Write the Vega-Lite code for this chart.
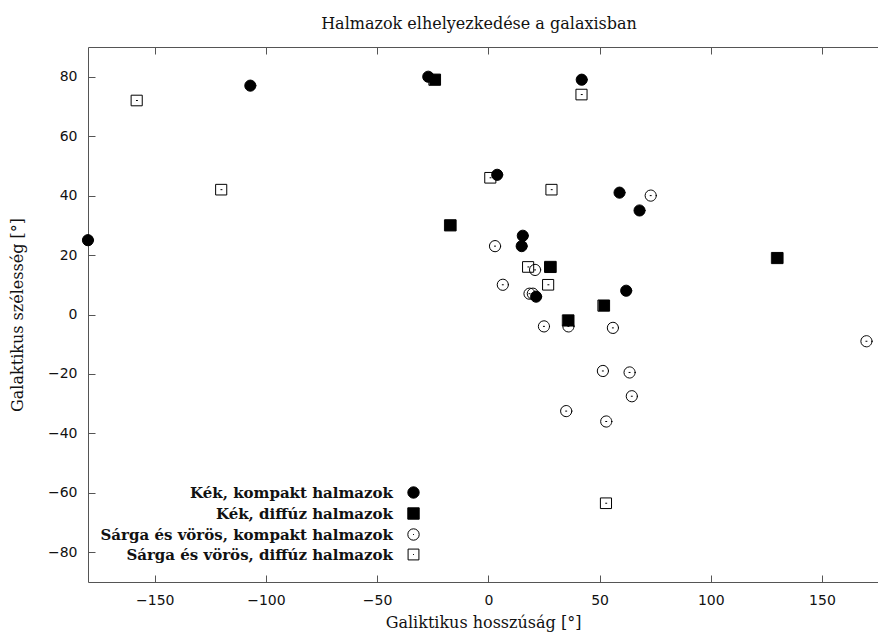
{
  "$schema": "https://vega.github.io/schema/vega-lite/v6.json",
  "width": 790,
  "height": 535,
  "autosize": {"type": "none"},
  "padding": {"left": 88, "top": 47, "right": 0, "bottom": 53},
  "title": {
    "text": "Halmazok elhelyezkedése a galaxisban",
    "font": "DejaVu Serif",
    "fontSize": 16,
    "fontWeight": "normal",
    "color": "#111111",
    "anchor": "middle",
    "offset": 15,
    "dx": -4
  },
  "config": {
    "view": {"stroke": null},
    "axis": {
      "domainColor": "#555555",
      "domainWidth": 1,
      "tickColor": "#555555",
      "tickWidth": 1,
      "labelFont": "DejaVu Sans",
      "labelFontSize": 14,
      "labelColor": "#111111",
      "grid": false,
      "titleFont": "DejaVu Serif",
      "titleFontSize": 16,
      "titleFontWeight": "normal",
      "titleColor": "#111111"
    },
    "legend": {
      "orient": "none",
      "legendX": 318,
      "legendY": 438,
      "padding": 0,
      "labelFont": "DejaVu Serif",
      "labelFontSize": 15,
      "labelFontWeight": "bold",
      "labelColor": "#111111",
      "labelAlign": "right",
      "labelOffset": -28,
      "labelLimit": 0,
      "rowPadding": 4,
      "symbolSize": 130,
      "symbolStrokeWidth": 1
    }
  },
  "data": {
    "values": [
      {"l": 3, "b": 23, "tipus": "Sárga és vörös, kompakt halmazok"},
      {"l": 21, "b": 15, "tipus": "Sárga és vörös, kompakt halmazok"},
      {"l": 6.5, "b": 10, "tipus": "Sárga és vörös, kompakt halmazok"},
      {"l": 18.5, "b": 7, "tipus": "Sárga és vörös, kompakt halmazok"},
      {"l": 20, "b": 7, "tipus": "Sárga és vörös, kompakt halmazok"},
      {"l": 25, "b": -4, "tipus": "Sárga és vörös, kompakt halmazok"},
      {"l": 36, "b": -4, "tipus": "Sárga és vörös, kompakt halmazok"},
      {"l": 56, "b": -4.5, "tipus": "Sárga és vörös, kompakt halmazok"},
      {"l": 73, "b": 40, "tipus": "Sárga és vörös, kompakt halmazok"},
      {"l": 170, "b": -9, "tipus": "Sárga és vörös, kompakt halmazok"},
      {"l": 51.5, "b": -19, "tipus": "Sárga és vörös, kompakt halmazok"},
      {"l": 63.5, "b": -19.5, "tipus": "Sárga és vörös, kompakt halmazok"},
      {"l": 64.5, "b": -27.5, "tipus": "Sárga és vörös, kompakt halmazok"},
      {"l": 53, "b": -36, "tipus": "Sárga és vörös, kompakt halmazok"},
      {"l": 35, "b": -32.5, "tipus": "Sárga és vörös, kompakt halmazok"},
      {"l": -158, "b": 72, "tipus": "Sárga és vörös, diffúz halmazok"},
      {"l": -120, "b": 42, "tipus": "Sárga és vörös, diffúz halmazok"},
      {"l": 42, "b": 74, "tipus": "Sárga és vörös, diffúz halmazok"},
      {"l": 1, "b": 46, "tipus": "Sárga és vörös, diffúz halmazok"},
      {"l": 28.5, "b": 42, "tipus": "Sárga és vörös, diffúz halmazok"},
      {"l": 18, "b": 16, "tipus": "Sárga és vörös, diffúz halmazok"},
      {"l": 27, "b": 10, "tipus": "Sárga és vörös, diffúz halmazok"},
      {"l": 53, "b": -63.5, "tipus": "Sárga és vörös, diffúz halmazok"},
      {"l": -180, "b": 25, "tipus": "Kék, kompakt halmazok"},
      {"l": -107, "b": 77, "tipus": "Kék, kompakt halmazok"},
      {"l": -27, "b": 80, "tipus": "Kék, kompakt halmazok"},
      {"l": 42, "b": 79, "tipus": "Kék, kompakt halmazok"},
      {"l": 4, "b": 47, "tipus": "Kék, kompakt halmazok"},
      {"l": 15.5, "b": 26.5, "tipus": "Kék, kompakt halmazok"},
      {"l": 15, "b": 23, "tipus": "Kék, kompakt halmazok"},
      {"l": 21.5, "b": 6, "tipus": "Kék, kompakt halmazok"},
      {"l": 59, "b": 41, "tipus": "Kék, kompakt halmazok"},
      {"l": 68, "b": 35, "tipus": "Kék, kompakt halmazok"},
      {"l": 62, "b": 8, "tipus": "Kék, kompakt halmazok"},
      {"l": -24, "b": 79, "tipus": "Kék, diffúz halmazok"},
      {"l": -17, "b": 30, "tipus": "Kék, diffúz halmazok"},
      {"l": 28, "b": 16, "tipus": "Kék, diffúz halmazok"},
      {"l": 36, "b": -2, "tipus": "Kék, diffúz halmazok"},
      {"l": 52, "b": 3, "tipus": "Kék, diffúz halmazok"},
      {"l": 130, "b": 19, "tipus": "Kék, diffúz halmazok"}
    ]
  },
  "layer": [
    {
      "mark": {"type": "point", "strokeWidth": 1, "strokeCap": "square", "opacity": 1, "size": 125},
      "encoding": {
        "x": {
          "field": "l",
          "type": "quantitative",
          "scale": {"domain": [-180, 175.2], "nice": false, "zero": false},
          "axis": {"orient": "bottom", "title": "Galiktikus hosszúság [°]", "values": [-150, -100, -50, 0, 50, 100, 150], "ticks": false, "tickSize": 0, "labelPadding": 11, "titlePadding": 7}
        },
        "y": {
          "field": "b",
          "type": "quantitative",
          "scale": {"domain": [-90, 90], "nice": false, "zero": false},
          "axis": {"orient": "left", "title": "Galaktikus szélesség [°]", "values": [-80, -60, -40, -20, 0, 20, 40, 60, 80], "ticks": false, "tickSize": 0, "labelPadding": 11, "titlePadding": 22}
        },
        "shape": {
          "field": "tipus",
          "type": "nominal",
          "scale": {
            "domain": ["Kék, kompakt halmazok", "Kék, diffúz halmazok", "Sárga és vörös, kompakt halmazok", "Sárga és vörös, diffúz halmazok"],
            "range": ["circle", "square", "M 1 0 A 1 1 0 1 1 -1 0 A 1 1 0 1 1 1 0 Z M -0.08 0 L 0.08 0", "M -0.95 -0.95 H 0.95 V 0.95 H -0.95 Z M -0.08 0 L 0.08 0"]
          },
          "legend": {"title": null}
        },
        "fill": {
          "field": "tipus",
          "type": "nominal",
          "scale": {
            "domain": ["Kék, kompakt halmazok", "Kék, diffúz halmazok", "Sárga és vörös, kompakt halmazok", "Sárga és vörös, diffúz halmazok"],
            "range": ["black", "black", "transparent", "transparent"]
          },
          "legend": {"title": null}
        },
        "stroke": {
          "field": "tipus",
          "type": "nominal",
          "scale": {
            "domain": ["Kék, kompakt halmazok", "Kék, diffúz halmazok", "Sárga és vörös, kompakt halmazok", "Sárga és vörös, diffúz halmazok"],
            "range": ["black", "black", "black", "black"]
          },
          "legend": {"title": null}
        }
      }
    },
    {
      "mark": {"type": "point", "opacity": 0},
      "encoding": {
        "x": {
          "field": "l",
          "type": "quantitative",
          "axis": {"orient": "top", "offset": -535, "title": null, "labels": false, "domain": false, "tickSize": 7, "values": [-150, -100, -50, 0, 50, 100, 150]}
        },
        "y": {
          "field": "b",
          "type": "quantitative",
          "axis": {"orient": "right", "offset": -790, "title": null, "labels": false, "domain": false, "tickSize": 7, "values": [-80, -60, -40, -20, 0, 20, 40, 60, 80]}
        }
      }
    },
    {
      "mark": {"type": "point", "opacity": 0},
      "encoding": {
        "x": {
          "field": "l",
          "type": "quantitative",
          "axis": {"orient": "bottom", "offset": -535, "title": null, "labels": false, "tickSize": 7, "values": [-150, -100, -50, 0, 50, 100, 150]}
        }
      }
    }
  ],
  "resolve": {"axis": {"x": "independent", "y": "independent"}}
}
